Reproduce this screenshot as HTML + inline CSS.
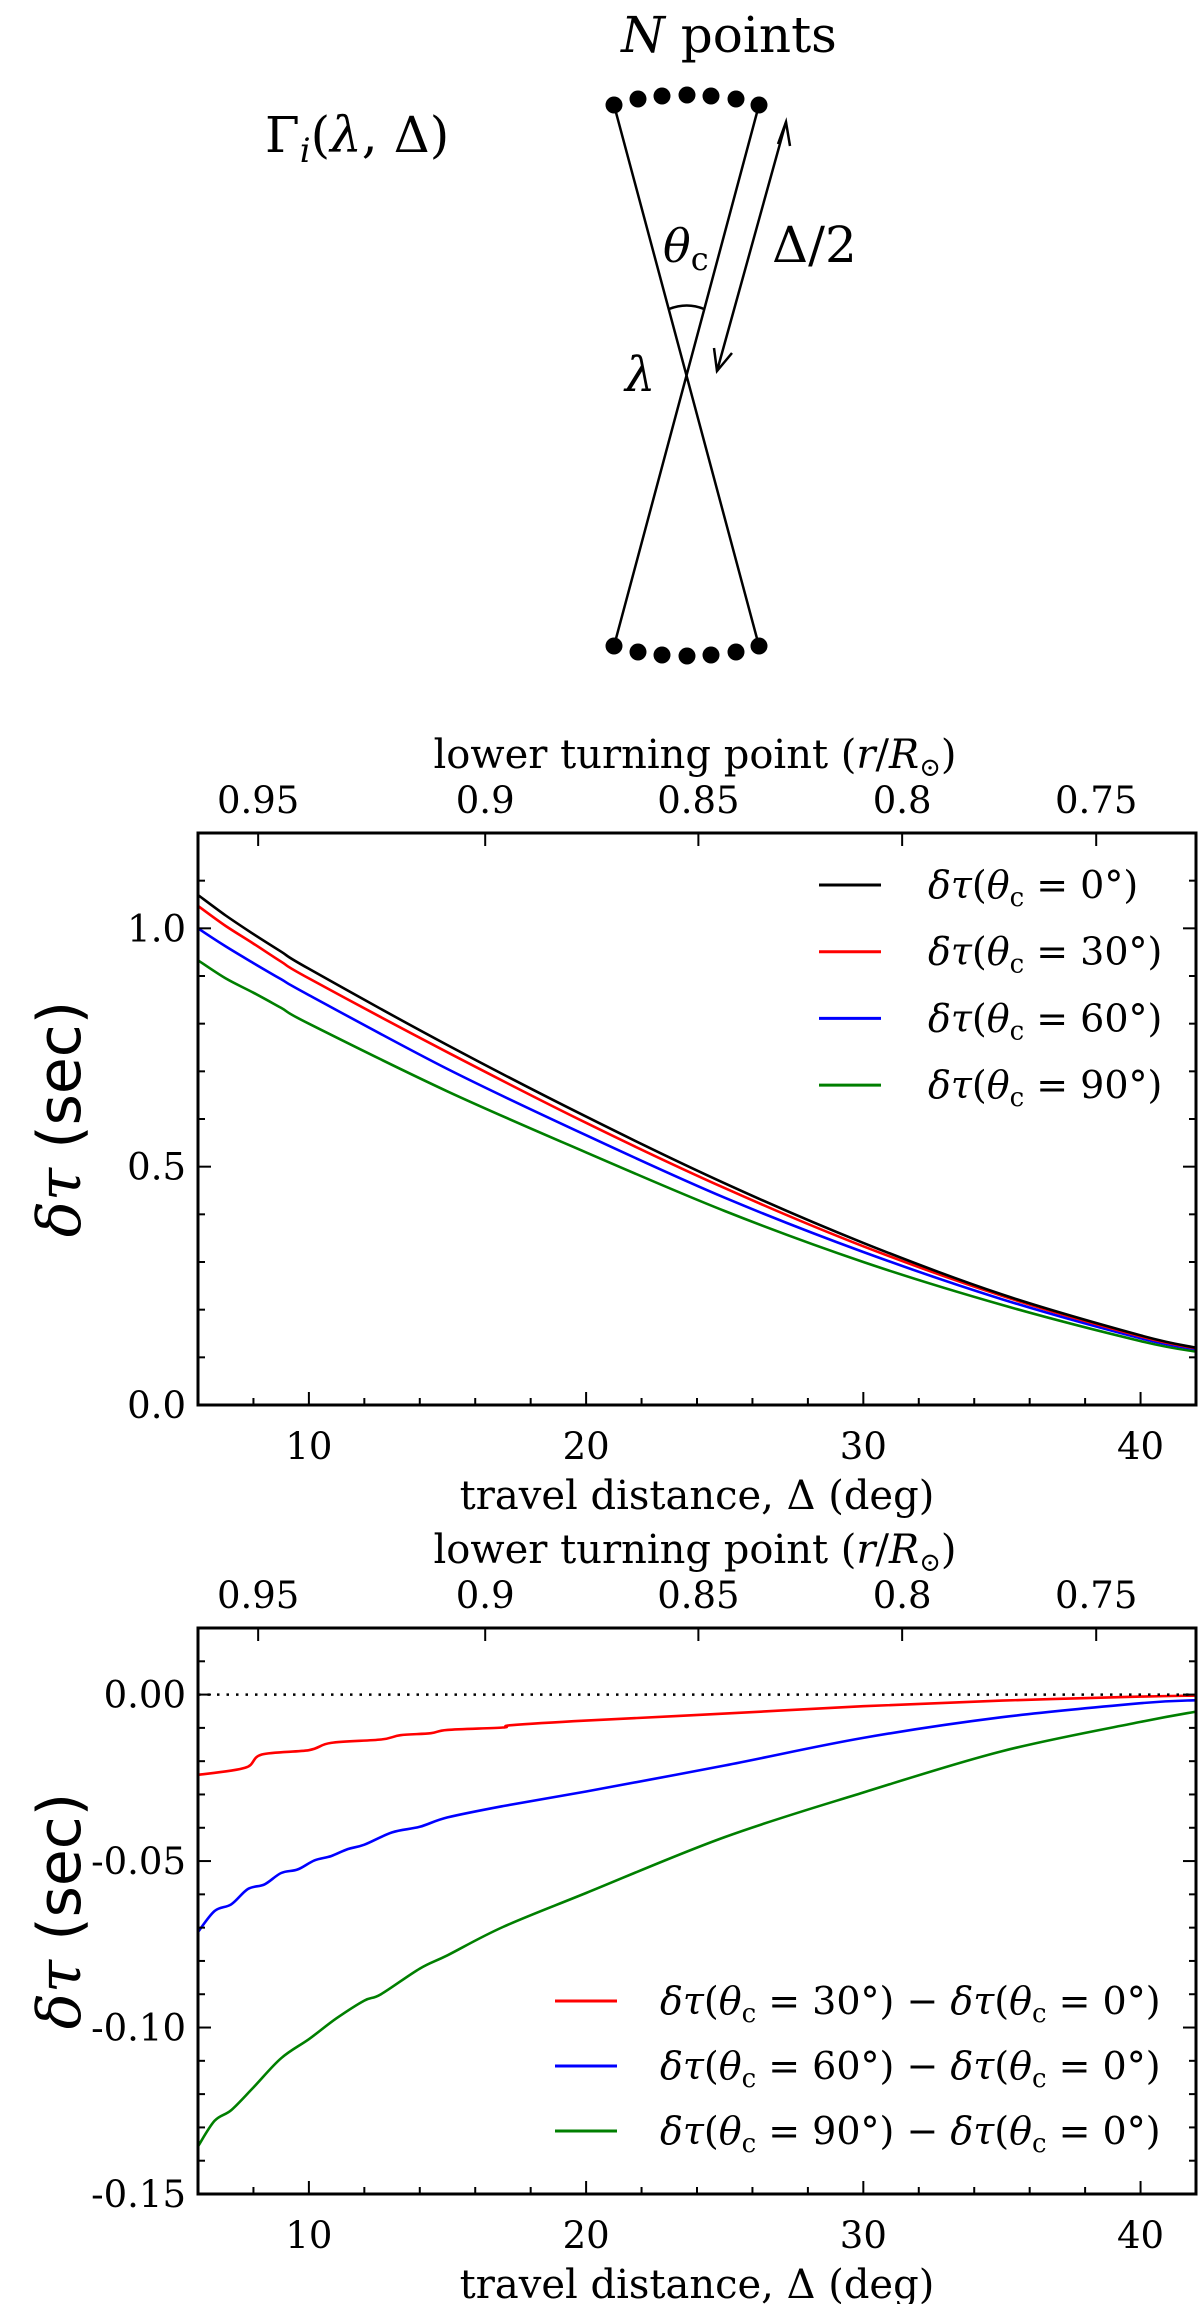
<!DOCTYPE html>
<html><head><meta charset="utf-8"><style>
html,body{margin:0;padding:0;background:#fff;}
svg{display:block;}
text{font-family:"DejaVu Serif","Liberation Serif",serif;fill:#000;}
</style></head><body>
<svg id="fig" width="1200" height="2304" viewBox="0 0 1200 2304" xmlns="http://www.w3.org/2000/svg">
<g id="diagram" stroke="#000" fill="none" stroke-width="2.5">
  <line x1="614" y1="105" x2="759" y2="646"/>
  <line x1="759" y1="105" x2="614" y2="646"/>
  <path d="M669 309 Q687 302 704 309"/>
  <line x1="786" y1="122" x2="717" y2="371"/>
  <polyline points="778,144 786,122 790,146"/>
  <polyline points="714,348 717,371 732,353"/>
  <g fill="#000" stroke="none">
    <circle cx="614" cy="105" r="8.5"/><circle cx="638" cy="99" r="8.5"/><circle cx="662" cy="96" r="8.5"/><circle cx="687" cy="95" r="8.5"/><circle cx="711" cy="96" r="8.5"/><circle cx="736" cy="99" r="8.5"/><circle cx="759" cy="105" r="8.5"/>
  </g>
  <g fill="#000" stroke="none">
    <circle cx="614" cy="646" r="8.5"/><circle cx="638" cy="652" r="8.5"/><circle cx="662" cy="655" r="8.5"/><circle cx="687" cy="656" r="8.5"/><circle cx="711" cy="655" r="8.5"/><circle cx="736" cy="652" r="8.5"/><circle cx="759" cy="646" r="8.5"/>
  </g>
</g>
<text x="729" y="52" font-size="50" text-anchor="middle"><tspan font-style="italic">N</tspan> points</text>
<text x="265" y="152" font-size="50">Γ<tspan font-style="italic" font-size="34" dy="10">i</tspan><tspan dy="-10">(</tspan><tspan font-style="italic">λ</tspan>, Δ)</text>
<text x="663" y="262" font-size="46" font-style="italic">θ<tspan font-style="normal" font-size="32" dy="8">c</tspan></text>
<text x="772" y="262" font-size="50">Δ/2</text>
<text x="625" y="391" font-size="48" font-style="italic">λ</text>
<g id="p1"></g>
<g id="p2"></g>
</svg>
<script>
const xs1 = [6,7,8,9,10,15,20,25,30,35,40,42];
const black1 = [1.07,1.027,0.988,0.951,0.915,0.755,0.605,0.465,0.34,0.232,0.146,0.12];
const red1 = [1.047,1.005,0.968,0.93,0.895,0.74,0.592,0.455,0.333,0.229,0.144,0.119];
const blue1 = [1.0,0.962,0.927,0.893,0.86,0.705,0.566,0.435,0.321,0.222,0.14,0.117];
const green1 = [0.933,0.895,0.865,0.833,0.80,0.658,0.53,0.407,0.3,0.21,0.134,0.112];
const yTicks1 = [0.0,0.5,1.0];
const yTickLabels1 = ["0.0","0.5","1.0"];
const xTicks = [10,20,30,40];
const topTickPos = [8.17,16.36,24.05,31.4,38.4];
const topTickLabels = ["0.95","0.9","0.85","0.8","0.75"];
const xsRed2 = [6,7.7,8.3,10,10.8,12.6,13.3,14.4,15,17,17.3,20,25,30,35,40,42];
const red2 = [-0.0241,-0.022,-0.018,-0.0167,-0.0145,-0.0135,-0.0122,-0.0116,-0.0106,-0.0099,-0.0092,-0.0078,-0.0057,-0.0035,-0.0018,-0.0006,-0.0003];
const xsBlue2 = [6,6.6,7.2,7.8,8.4,9,9.6,10.2,10.8,11.4,12,13,14,15,17,20,25,30,35,40,42];
const blue2 = [-0.0713,-0.065,-0.063,-0.0584,-0.057,-0.0536,-0.0525,-0.0498,-0.0485,-0.0464,-0.0451,-0.0414,-0.0397,-0.0369,-0.0335,-0.0291,-0.0213,-0.013,-0.0068,-0.0026,-0.0017];
const xsGreen2 = [6,6.6,7.2,8,9,10,11,12,12.6,14,15,17,20,25,30,35,40,42];
const green2 = [-0.1357,-0.128,-0.1248,-0.118,-0.1092,-0.1035,-0.0972,-0.0919,-0.09,-0.0823,-0.0783,-0.0698,-0.0596,-0.0428,-0.0294,-0.017,-0.0082,-0.0051];
const yTicks2 = [-0.15,-0.10,-0.05,0.0];
const yTickLabels2 = ["-0.15","-0.10","-0.05","0.00"];

const NS="http://www.w3.org/2000/svg";
function mk(parent,tag,attrs,txt){const e=document.createElementNS(NS,tag);for(const k in attrs)e.setAttribute(k,attrs[k]);if(txt!==undefined)e.textContent=txt;parent.appendChild(e);return e;}
function smoothPath(pts){
  let d='M'+pts[0][0].toFixed(1)+' '+pts[0][1].toFixed(1);
  for(let i=0;i<pts.length-1;i++){
    const p0=pts[Math.max(0,i-1)],p1=pts[i],p2=pts[i+1],p3=pts[Math.min(pts.length-1,i+2)];
    const c1=[p1[0]+(p2[0]-p0[0])/6,p1[1]+(p2[1]-p0[1])/6];
    const c2=[p2[0]-(p3[0]-p1[0])/6,p2[1]-(p3[1]-p1[1])/6];
    d+=' C'+c1[0].toFixed(1)+' '+c1[1].toFixed(1)+' '+c2[0].toFixed(1)+' '+c2[1].toFixed(1)+' '+p2[0].toFixed(1)+' '+p2[1].toFixed(1);
  }
  return d;
}

function chart(g, top, bottom, ymin, ymax, yMinorStep, yTicks, yLabels, series, legend, zeroLine){
  const L=198,R=1196;
  const X=v=>L+(v-6)/(42-6)*(R-L);
  const Y=v=>bottom-(v-ymin)/(ymax-ymin)*(bottom-top);
  series.forEach(s=>{
    const pts=s.xs.map((x,i)=>[X(x),Y(s.ys[i])]);
    const p=mk(g,'path',{d:smoothPath(pts),fill:'none',stroke:s.color,'stroke-width':2.6,'stroke-linejoin':'round'});
    
    
  });
  if(zeroLine){
    const z=mk(g,'line',{x1:L,x2:R,y1:Y(0),y2:Y(0),stroke:'#000','stroke-width':2.5,'stroke-dasharray':'2.5 7'});
    
    
  }
  const tk=mk(g,'g',{stroke:'#000','stroke-width':2});
  
  
  for(let v=8;v<=42;v+=2){const maj=v%10===0,len=maj?13:7;mk(tk,'line',{x1:X(v),x2:X(v),y1:bottom,y2:bottom-len});}
  topTickPos.forEach(v=>mk(tk,'line',{x1:X(v),x2:X(v),y1:top,y2:top+13}));
  const n=Math.round((ymax-ymin)/yMinorStep);
  for(let i=1;i<n;i++){const v=ymin+i*yMinorStep;const maj=yTicks.some(t=>Math.abs(t-v)<1e-6);const len=maj?13:7;
    mk(tk,'line',{x1:L,x2:L+len,y1:Y(v),y2:Y(v)});mk(tk,'line',{x1:R,x2:R-len,y1:Y(v),y2:Y(v)});}
  const fr=mk(g,'rect',{x:L,y:top,width:R-L,height:bottom-top,fill:'none',stroke:'#000','stroke-width':3});
  
  
  xTicks.forEach(v=>{const t=mk(g,'text',{x:X(v),y:bottom+54,'font-size':37,'text-anchor':'middle'},String(v));
    
    });
  topTickPos.forEach((v,i)=>{const t=mk(g,'text',{x:X(v),y:top-20,'font-size':37,'text-anchor':'middle'},topTickLabels[i]);
    
    });
  yTicks.forEach((v,i)=>{const t=mk(g,'text',{x:L-12,y:Y(v)+13,'font-size':37,'text-anchor':'end'},yLabels[i]);
    
    });
  const tt=mk(g,'text',{x:695,y:top-65,'font-size':40,'text-anchor':'middle'});
  tt.innerHTML='lower turning point (<tspan font-style="italic">r</tspan>/<tspan font-style="italic">R</tspan><tspan font-size="26" dy="8">⊙</tspan><tspan dy="-8">)</tspan>';
  
  
  const xt=mk(g,'text',{x:697,y:bottom+104,'font-size':40,'text-anchor':'middle'},'travel distance, Δ (deg)');
  
  
  const cy=(top+bottom)/2;
  const yt=mk(g,'text',{x:0,y:0,'font-size':60,'text-anchor':'middle',transform:`translate(${L-118},${cy}) rotate(-90)`});
  yt.innerHTML='<tspan font-style="italic">δτ</tspan> <tspan style="font-family:\'DejaVu Sans\',sans-serif">(sec)</tspan>';
  
  
  legend.rows.forEach((r,i)=>{
    const y=legend.y0+i*legend.dy;
    const lg=mk(g,'g',{});
    
    
    mk(lg,'line',{x1:legend.x1,x2:legend.x1+62,y1:y,y2:y,stroke:r.color,'stroke-width':3});
    const t=mk(lg,'text',{x:legend.tx,y:y+13,'font-size':38});
    t.innerHTML=r.html;
  });
}
const term=a=>'<tspan font-style="italic">δτ</tspan>(<tspan font-style="italic">θ</tspan><tspan font-size="26" dy="8">c</tspan><tspan dy="-8"> = '+a+'°)</tspan>';
chart(document.getElementById('p1'),833,1405,0,1.2,0.1,yTicks1,yTickLabels1,[
  {xs:xs1,ys:green1,color:'#007f00',name:'line-theta-90'},
  {xs:xs1,ys:blue1,color:'#0000ff',name:'line-theta-60'},
  {xs:xs1,ys:red1,color:'#ff0000',name:'line-theta-30'},
  {xs:xs1,ys:black1,color:'#000000',name:'line-theta-0'}],
  {x1:819,tx:928,y0:885,dy:66.7,rows:[{color:'#000',html:term(0)},{color:'#f00',html:term(30)},{color:'#00f',html:term(60)},{color:'#007f00',html:term(90)}]},false);
chart(document.getElementById('p2'),1628,2194,-0.15,0.02,0.01,yTicks2,yTickLabels2,[
  {xs:xsGreen2,ys:green2,color:'#007f00',name:'diff-theta-90'},
  {xs:xsBlue2,ys:blue2,color:'#0000ff',name:'diff-theta-60'},
  {xs:xsRed2,ys:red2,color:'#ff0000',name:'diff-theta-30'}],
  {x1:555,tx:660,y0:2001,dy:65,rows:[{color:'#f00',html:term(30)+' − '+term(0)},{color:'#00f',html:term(60)+' − '+term(0)},{color:'#007f00',html:term(90)+' − '+term(0)}]},true);
</script>
</body></html>
